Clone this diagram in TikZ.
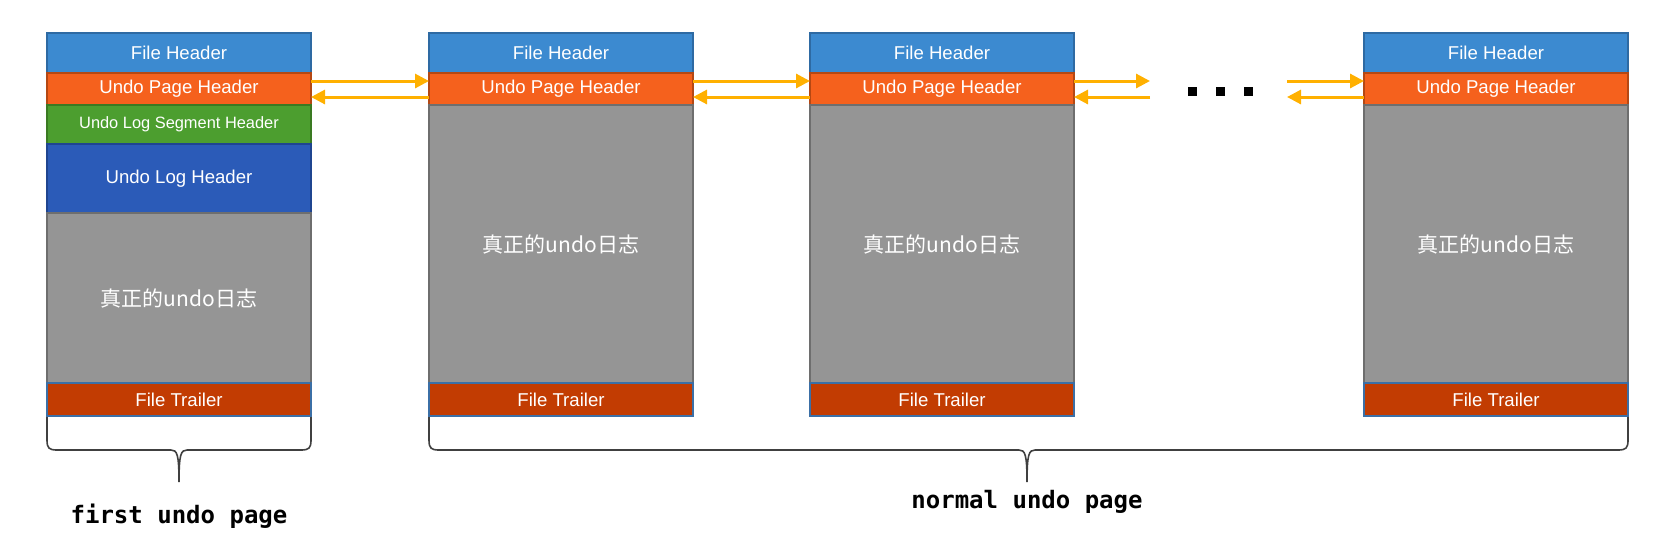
\documentclass[tikz,border=0pt]{standalone}
\usepackage{fontspec}
\setmainfont{Liberation Sans}
\newfontfamily\cjkfont{Noto Sans CJK SC}
\newfontfamily\labelfont{DejaVu Sans Mono}
\usetikzlibrary{positioning,arrows.meta}

\definecolor{fhblue}{HTML}{3C8AD0}
\definecolor{fhedge}{HTML}{2E6AA3}
\definecolor{uphorange}{HTML}{F5611D}
\definecolor{uphedge}{HTML}{B54813}
\definecolor{seggreen}{HTML}{4C9E2F}
\definecolor{segedge}{HTML}{3A7A22}
\definecolor{ulhblue}{HTML}{2B5BB8}
\definecolor{ulhedge}{HTML}{1F4590}
\definecolor{loggray}{HTML}{959595}
\definecolor{logedge}{HTML}{6E6E6E}
\definecolor{ftred}{HTML}{C23C02}
\definecolor{ftedge}{HTML}{3B6FA6}
\definecolor{linkamber}{HTML}{FFB000}

\tikzset{
  sect/.style={draw, line width=1pt, text=white, minimum width=132pt,
    inner sep=0pt, outer sep=0pt, font=\fontsize{9.3}{10}\selectfont},
  fhbox/.style={sect, fill=fhblue, draw=fhedge, minimum height=20pt},
  uphbox/.style={sect, fill=uphorange, draw=uphedge, minimum height=16pt},
  segbox/.style={sect, fill=seggreen, draw=segedge, minimum height=19.5pt,
    font=\fontsize{8.2}{9}\selectfont},
  ulhbox/.style={sect, fill=ulhblue, draw=ulhedge, minimum height=34.5pt},
  logbox/.style={sect, fill=loggray, draw=logedge,
    font=\cjkfont\fontsize{10.5}{12}\selectfont},
  ftbox/.style={sect, fill=ftred, draw=ftedge, minimum height=16.5pt},
  link/.style={-{Triangle[length=7pt,width=7pt]}, draw=linkamber, line width=1.5pt},
  brace/.style={draw=black!75, line width=0.8pt},
  pagelabel/.style={font=\labelfont\bfseries\fontsize{12}{14}\selectfont},
}

% curly brace under pages: left, right, middle
\newcommand\pagebrace[3]{%
  \draw[brace] (#1,417) -- (#1,440) .. controls (#1,448) and (#1+2,450) .. (#1+10,450)
    -- (#3-8,450) .. controls (#3-2,450) and (#3,454) .. (#3,482)
    .. controls (#3,454) and (#3+2,450) .. (#3+8,450)
    -- (#2-10,450) .. controls (#2-2,450) and (#2,448) .. (#2,440) -- (#2,417);}

\begin{document}
\begin{tikzpicture}[x=0.5pt,y=-0.5pt]
  \useasboundingbox (0,0) rectangle (1668,538);

  % first undo page
  \node[fhbox, anchor=north west] (fh1) at (47,33) {File Header};
  \node[uphbox, below=0pt of fh1] (uph1) {Undo Page Header};
  \node[segbox, below=0pt of uph1] (seg1) {Undo Log Segment Header};
  \node[ulhbox, below=0pt of seg1] (ulh1) {Undo Log Header};
  \node[logbox, minimum height=85pt, below=0pt of ulh1] (log1) {真正的undo日志};
  \node[ftbox, below=0pt of log1] (ft1) {File Trailer};

  % normal undo pages
  \foreach \i/\x in {2/429,3/810,4/1364} {
    \node[fhbox, anchor=north west] (fh\i) at (\x,33) {File Header};
    \node[uphbox, below=0pt of fh\i] (uph\i) {Undo Page Header};
    \node[logbox, minimum height=139pt, below=0pt of uph\i] (log\i) {真正的undo日志};
    \node[ftbox, below=0pt of log\i] (ft\i) {File Trailer};
  }

  % links between pages
  \draw[link] ([yshift=4pt]uph1.east) -- ([yshift=4pt]uph2.west);
  \draw[link] ([yshift=-4pt]uph2.west) -- ([yshift=-4pt]uph1.east);
  \draw[link] ([yshift=4pt]uph2.east) -- ([yshift=4pt]uph3.west);
  \draw[link] ([yshift=-4pt]uph3.west) -- ([yshift=-4pt]uph2.east);

  \coordinate (gapL) at (1150,89);
  \coordinate (gapR) at (1287,89);
  \draw[link] ([yshift=4pt]uph3.east) -- ([yshift=4pt]gapL);
  \draw[link] ([yshift=-4pt]gapL) -- ([yshift=-4pt]uph3.east);
  \draw[link] ([yshift=4pt]gapR) -- ([yshift=4pt]uph4.west);
  \draw[link] ([yshift=-4pt]uph4.west) -- ([yshift=-4pt]gapR);

  \foreach \x in {1192,1220,1248}
    \fill (\x-4.5,86.5) rectangle ++(9,9);

  % braces and labels
  \pagebrace{47}{311}{179}
  \pagebrace{429}{1628}{1027}
  \node[pagelabel, anchor=base] (lblfirst) at (179,523) {first undo page};
  \node[pagelabel, anchor=base] (lblnormal) at (1027,508) {normal undo page};
\end{tikzpicture}
\end{document}
